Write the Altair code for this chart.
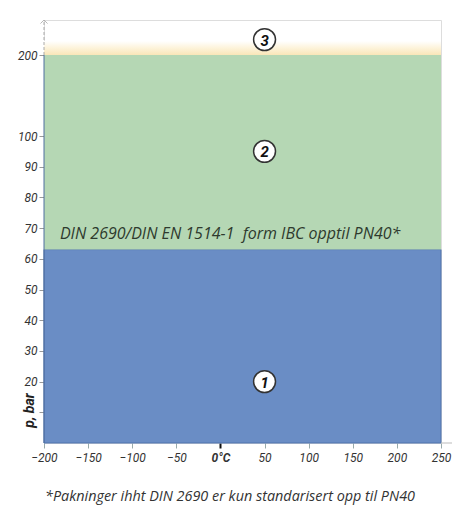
import altair as alt
import pandas as pd

# ---- data ----
region_ids = ["1", "2", "3"]
region_y0 = [0, 63, 200]
region_y1 = [63, 200, 210]
x_min, x_max = -200, 250

marker_x = [50, 50, 50]
marker_y = [20, 95, 211]

x_ticks = [-200, -150, -100, -50, 0, 50, 100, 150, 200, 250]
y_ticks = [10, 20, 30, 40, 50, 60, 70, 80, 90, 100, 200]

band_label = "DIN 2690/DIN EN 1514-1\u00a0 form IBC opptil PN40*"
band_label_x = -182
band_label_y = 68
footnote = "*Pakninger ihht DIN 2690 er kun standarisert opp til PN40"

W, H = 397, 423
AX_FONT = "Roboto"

xs = alt.Scale(domain=[x_min, x_max], nice=False, zero=False)
ys = alt.Scale(domain=[0, 100, 200, 225], range=[H, 116, 35, 0], nice=False, zero=False)

regions = pd.DataFrame({
    "id": region_ids,
    "x0": [x_min] * 3,
    "x1": [x_max] * 3,
    "y0": region_y0,
    "y1": region_y1,
})

x_enc = alt.X("x0:Q", scale=xs, axis=alt.Axis(
    values=x_ticks, title=None, grid=False, domain=False,
    labelExpr="datum.value === 0 ? '0°C' : datum.label",
    labelFont=AX_FONT, labelFontStyle="italic", labelFontSize=12, labelColor="#333",
    labelFontWeight={"condition": {"test": "datum.value === 0", "value": "bold"}, "value": "normal"},
    tickColor={"condition": {"test": "datum.value === 0", "value": "#111"}, "value": "#9aa"},
    tickWidth={"condition": {"test": "datum.value === 0", "value": 2}, "value": 1},
    tickSize=5, labelPadding=4, labelOverlap=False, labelFlush=False,
))
y_enc = alt.Y("y0:Q", scale=ys, axis=alt.Axis(
    values=y_ticks, title="p, bar", grid=False, domain=False,
    labelExpr="datum.value === 10 ? '' : datum.label",
    labelFont=AX_FONT, labelFontStyle="italic", labelFontSize=12, labelColor="#333",
    tickColor="#999", tickSize=5, labelPadding=2, labelOverlap=False, labelFlush=False,
    titleFont=AX_FONT, titleFontStyle="italic", titleFontWeight="bold", titleFontSize=14,
    titleColor="#222", titleAngle=-90, titleX=-15, titleY=H - 33, titleAlign="center",
    titleBaseline="middle",
))

blue = alt.Chart(regions[regions.id == "1"]).mark_rect(
    color="#6a8dc5", stroke="#4f72ad", strokeWidth=1).encode(
    x=x_enc, x2="x1:Q", y=y_enc, y2="y1:Q")
green = alt.Chart(regions[regions.id == "2"]).mark_rect(color="#b5d7b4").encode(
    x=alt.X("x0:Q", scale=xs), x2="x1:Q", y=alt.Y("y0:Q", scale=ys), y2="y1:Q")
yellow = alt.Chart(regions[regions.id == "3"]).mark_rect(
    color=alt.LinearGradient(gradient="linear", x1=0, x2=0, y1=1, y2=0, stops=[
        alt.GradientStop(color="#f9e6b8", offset=0),
        alt.GradientStop(color="#fdf3da", offset=0.5),
        alt.GradientStop(color="#ffffff", offset=1),
    ])).encode(
    x=alt.X("x0:Q", scale=xs), x2="x1:Q", y=alt.Y("y0:Q", scale=ys), y2="y1:Q")

axis_lines = pd.DataFrame({"x": [x_min, x_min], "y": [0, 200], "y2": [200, 225],
                           "kind": ["solid", "dash"]})
left_solid = alt.Chart(axis_lines[axis_lines.kind == "solid"]).mark_rule(
    color="#4f6f9f", strokeWidth=1).encode(
    x=alt.X("x:Q", scale=xs), y=alt.Y("y:Q", scale=ys), y2="y2:Q")
left_dash = alt.Chart(axis_lines[axis_lines.kind == "dash"]).mark_rule(
    color="#aaa", strokeWidth=1, strokeDash=[3, 2]).encode(
    x=alt.X("x:Q", scale=xs), y=alt.Y("y:Q", scale=ys), y2="y2:Q")
arrow = alt.Chart(pd.DataFrame({"x": [x_min], "y": [225]})).mark_point(
    shape="M-1,1L0,0L1,1", filled=False, color="#999", size=50, strokeWidth=1).encode(
    x=alt.X("x:Q", scale=xs), y=alt.Y("y:Q", scale=ys))
x_ext = alt.Chart(pd.DataFrame({"x": [x_max], "x2": [266], "y": [0]})).mark_rule(
    color="#bbb", strokeWidth=1).encode(
    x=alt.X("x:Q", scale=xs), x2="x2:Q", y=alt.Y("y:Q", scale=ys))

markers = pd.DataFrame({"id": region_ids, "x": marker_x, "y": marker_y})
circles = alt.Chart(markers).mark_point(
    shape="circle", filled=True, fill="white", stroke="#333", strokeWidth=1.5,
    size=480, opacity=1).encode(
    x=alt.X("x:Q", scale=xs), y=alt.Y("y:Q", scale=ys))
nums = alt.Chart(markers).mark_text(
    font="Roboto", fontStyle="italic", fontWeight="bold", fontSize=15, color="#111",
    baseline="middle", align="center", dy=1).encode(
    x=alt.X("x:Q", scale=xs), y=alt.Y("y:Q", scale=ys), text="id:N")

label = alt.Chart(pd.DataFrame({"x": [band_label_x], "y": [band_label_y], "t": [band_label]})).mark_text(
    font="Open Sans", fontStyle="italic", fontSize=16, color="#2e3a2e", align="left",
    baseline="middle").encode(
    x=alt.X("x:Q", scale=xs), y=alt.Y("y:Q", scale=ys), text="t:N")

foot = alt.Chart(pd.DataFrame({"t": [footnote]})).mark_text(
    font="Open Sans", fontStyle="italic", fontSize=14.4, color="#333", align="center",
    baseline="middle").encode(
    x=alt.value(186), y=alt.value(477), text="t:N")

chart = alt.layer(
    blue, green, yellow, left_solid, left_dash, arrow, x_ext,
    circles, nums, label, foot
).properties(
    width=W, height=H,
    autosize=alt.AutoSizeParams(type="none"),
    padding={"left": 36, "top": 12, "right": 11, "bottom": 62},
).configure_view(stroke=None).configure(background="white")

chart.save("out.html", embed_options={"renderer": "svg", "actions": False})
